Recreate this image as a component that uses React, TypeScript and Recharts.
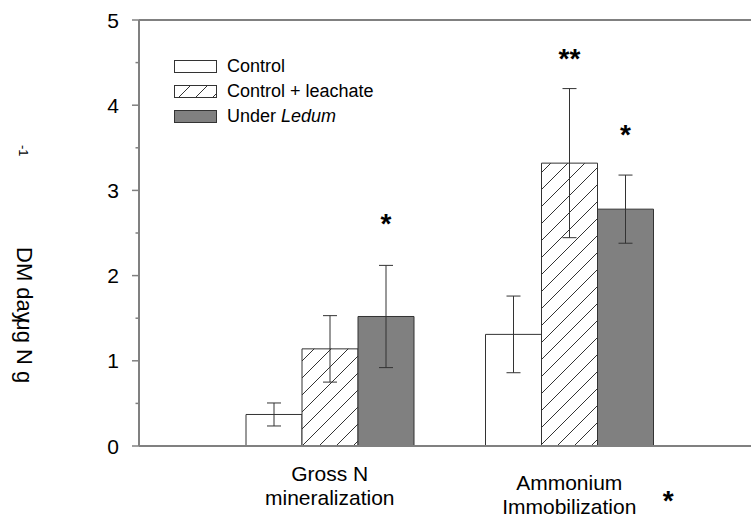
import React from "react";
import { BarChart, Bar, XAxis, YAxis, ErrorBar, LabelList, ReferenceLine } from "recharts";

const FONT = "'Liberation Sans', Arial, sans-serif";

const categories = ["Gross N\nmineralization", "Ammonium\nImmobilization"];
const categoryMarks = ["", "*"];
const seriesNames = ["Control", "Control + leachate", "Under Ledum"];

const controlValues = [0.37, 1.31];
const controlErrors = [0.135, 0.45];
const leachateValues = [1.14, 3.32];
const leachateErrors = [0.39, 0.875];
const ledumValues = [1.52, 2.78];
const ledumErrors = [0.6, 0.4];

// significance marks and the level (data units) where they sit
const leachateSig = ["", "**"];
const leachateSigLevel = [0, 4.63];
const ledumSig = ["*", "*"];
const ledumSigLevel = [2.69, 3.73];

const yTicks = [0, 0.5, 1, 1.5, 2, 2.5, 3, 3.5, 4, 4.5, 5];

const data = categories.map((cat, i) => ({
  cat,
  control: controlValues[i],
  controlErr: controlErrors[i],
  leachate: leachateValues[i],
  leachateErr: leachateErrors[i],
  ledum: ledumValues[i],
  ledumErr: ledumErrors[i],
  leachateMark: leachateSig[i] ? `${leachateSig[i]}|${leachateSigLevel[i]}|${leachateValues[i]}` : "",
  ledumMark: ledumSig[i] ? `${ledumSig[i]}|${ledumSigLevel[i]}|${ledumValues[i]}` : "",
}));

const fills = ["#ffffff", "url(#hatch)", "#808080"];
const keys = ["control", "leachate", "ledum"];
const errKeys = ["controlErr", "leachateErr", "ledumErr"];

const SigLabel = (props: any) => {
  const { x, y, width, height, value } = props;
  if (!value) return null;
  const [mark, level, barVal] = String(value).split("|");
  const pxPerUnit = Number(height) / Number(barVal);
  const base = Number(y) + Number(height);
  const cy = base - Number(level) * pxPerUnit;
  return (
    <text x={Number(x) + Number(width) / 2} y={cy} dy={16} textAnchor="middle"
      fontFamily={FONT} fontSize={28} fontWeight="bold" fill="#000">
      {mark}
    </text>
  );
};

const YTick = (props: any) => {
  const { x, y, payload } = props;
  const major = Number.isInteger(payload.value);
  return (
    <g>
      <line x1={x - (major ? 7 : 3.5)} x2={x} y1={y} y2={y} stroke="#808080" strokeWidth={1.5} />
      {major && (
        <text x={x - 20} y={y} dy={7.5} textAnchor="end" fontFamily={FONT} fontSize={21} fill="#000">
          {payload.value}
        </text>
      )}
    </g>
  );
};

const XTick = (props: any) => {
  const { x, y, payload } = props;
  const i = categories.indexOf(payload.value);
  const lines = String(payload.value).split("\n");
  const shift = i === 1 ? 9 : 0;
  return (
    <g>
      {lines.map((l, k) => (
        <text key={k} x={x} y={y + 33 + shift + k * 24} textAnchor="middle" fontFamily={FONT} fontSize={21} fill="#000">
          {l}
        </text>
      ))}
      {categoryMarks[i] && (
        <text x={x + 99} y={y + 62} textAnchor="middle" fontFamily={FONT} fontSize={28} fontWeight="bold" fill="#000">
          {categoryMarks[i]}
        </text>
      )}
    </g>
  );
};

const renderName = (n: string) => {
  if (n.startsWith("Under ")) {
    return (
      <>
        Under <i>{n.slice(6)}</i>
      </>
    );
  }
  return n;
};

const LegendBox = () => (
  <div style={{ position: "absolute", left: 174, top: 54, fontFamily: FONT, fontSize: 18, color: "#000" }}>
    {seriesNames.map((n, i) => (
      <div key={n} style={{ display: "flex", alignItems: "center", height: 25 }}>
        <svg width={43} height={14}>
          <rect x={0.5} y={0.5} width={42} height={12} fill={fills[i]} stroke="#333" strokeWidth={1} />
        </svg>
        <span style={{ marginLeft: 10, whiteSpace: "nowrap" }}>{renderName(n)}</span>
      </div>
    ))}
  </div>
);

export default function App() {
  return (
    <div style={{ position: "absolute", left: 0, top: 0, width: 751, height: 519, background: "#fff" }}>
      <BarChart width={751} height={519} data={data} margin={{ top: 20, right: 0, bottom: 0, left: 0 }}
        barSize={56} barGap={0}>
        <defs>
          <pattern id="hatch" patternUnits="userSpaceOnUse" width={17} height={17}>
            <rect x={0} y={0} width={17} height={17} fill="#fff" />
            <path d="M0,17 L17,0 M-4,4 L4,-4 M13,21 L21,13" stroke="#333" strokeWidth={1} />
          </pattern>
        </defs>
        <XAxis dataKey="cat" height={73} padding={{ left: 71, right: 62 }} tickLine={false} tickSize={0}
          axisLine={{ stroke: "#808080", strokeWidth: 2 }} tick={<XTick />} interval={0} />
        <YAxis width={139} domain={[0, 5]} ticks={yTicks} interval={0} tickSize={0} tickMargin={0}
          tickLine={false} axisLine={{ stroke: "#808080", strokeWidth: 2 }} tick={<YTick />} />
        <ReferenceLine y={5} stroke="#808080" strokeWidth={2} />
        {keys.map((k, i) => (
          <Bar key={k} dataKey={k} name={seriesNames[i]} fill={fills[i]} stroke="#333" strokeWidth={1}
            isAnimationActive={false}>
            <ErrorBar dataKey={errKeys[i]} width={7} stroke="#333" strokeWidth={1} direction="y" />
            {k === "leachate" && <LabelList dataKey="leachateMark" content={<SigLabel />} />}
            {k === "ledum" && <LabelList dataKey="ledumMark" content={<SigLabel />} />}
          </Bar>
        ))}
      </BarChart>
      <LegendBox />
      <svg width={60} height={519} style={{ position: "absolute", left: 0, top: 0 }}>
        <g fontFamily={FONT} fill="#000">
          <text x={19} y={145} fontSize={13} transform="rotate(90 19 145)">-1</text>
          <text x={17} y={247} fontSize={22} transform="rotate(90 17 247)">DM day</text>
          <text x={17} y={318} fontSize={22} transform="rotate(90 17 318)">μg N g</text>
        </g>
      </svg>
    </div>
  );
}
